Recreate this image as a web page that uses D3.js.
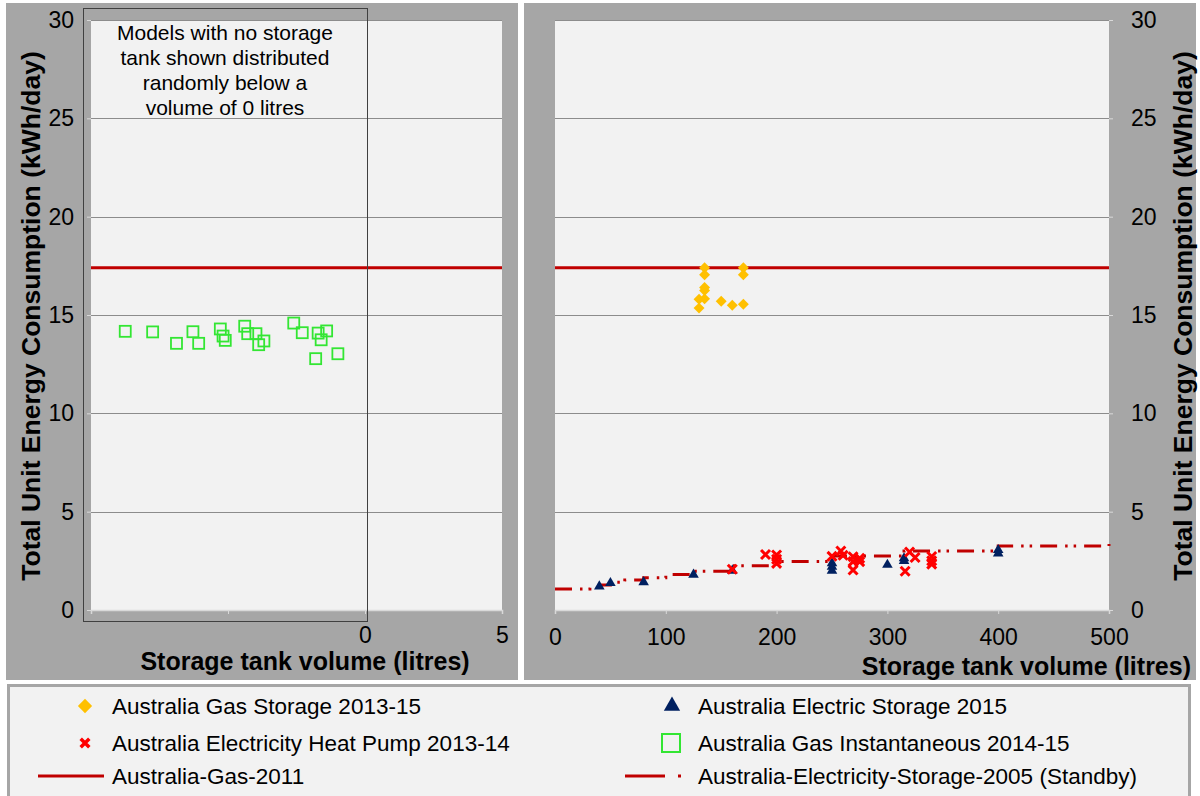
<!DOCTYPE html>
<html>
<head>
<meta charset="utf-8">
<script src="https://cdn.jsdelivr.net/npm/d3@7"></script>
<style>
  html, body { margin: 0; padding: 0; background: #ffffff; }
  svg { display: block; font-family: "Liberation Sans", Arial, sans-serif; }
</style>
</head>
<body>
<svg id="chart" width="1200" height="796"></svg>
<script>
// ---- data ----
const yTicks = [0, 5, 10, 15, 20, 25, 30];
const leftXTicks = [-10, -5, 0, 5];
const rightXTicks = [0, 100, 200, 300, 400, 500];

// Gas instantaneous models (no tank): spread below 0 litres
const gasInstVolume = [-8.75, -7.75, -6.88, -6.28, -6.07, -5.28, -5.18, -5.10, -4.39, -4.28,
                       -3.69, -3.98, -3.88, -2.60, -2.29, -1.71, -1.60, -1.40, -1.80, -0.99];
const gasInstUEC = [14.17, 14.14, 13.56, 14.15, 13.56, 14.29, 13.93, 13.71, 14.43, 14.05,
                    13.68, 14.05, 13.49, 14.59, 14.10, 14.08, 13.74, 14.19, 12.78, 13.03];

// Gas storage models
const gasStorVolume = [135, 135, 135, 135, 130, 135, 130, 150, 160, 170, 170, 170];
const gasStorUEC = [17.4, 17.05, 16.4, 16.25, 15.8, 15.82, 15.35, 15.7, 15.5, 15.55, 17.4, 17.05];

// Electric storage models
const elecVolume = [40, 50, 80, 125, 160, 250, 250, 250, 300, 315, 315, 400, 400];
const elecUEC = [1.2, 1.37, 1.42, 1.8, 2.0, 2.38, 2.2, 2.0, 2.3, 2.63, 2.5, 3.05, 2.88];

// Heat pump models
const hpVolume = [160, 190, 200, 200, 200, 250, 258, 260, 269, 269, 269, 275, 275, 316, 320, 325, 340, 340, 340];
const hpUEC = [2.07, 2.82, 2.8, 2.58, 2.37, 2.73, 3.0, 2.78, 2.71, 2.46, 2.03, 2.63, 2.46, 1.97, 2.95, 2.67, 2.72, 2.5, 2.33];

// Standby (heat loss) allowance, stepped by nominal tank size
const standbyVolume = [0, 31.5, 40, 50, 63, 80, 100, 125, 160, 200, 250, 315, 400, 500];
const standbyUEC = [1.07, 1.17, 1.27, 1.41, 1.52, 1.64, 1.8, 1.97, 2.25, 2.46, 2.75, 3.0, 3.25, 3.36];

// Gas 2011 reference level
const gas2011UEC = 17.4;

const legendLabels = [
  "Australia Gas Storage 2013-15",
  "Australia Electric Storage 2015",
  "Australia Electricity Heat Pump 2013-14",
  "Australia Gas Instantaneous 2014-15",
  "Australia-Gas-2011",
  "Australia-Electricity-Storage-2005 (Standby)"
];

// ---- styles ----
const C = {
  panel: "#a6a6a6",
  plot: "#f2f2f2",
  grid: "#8c8c8c",
  axis: "#d9d9d9",
  red: "#c00000",
  gold: "#ffc000",
  navy: "#002060",
  cross: "#ff0000",
  green: "#33e633",
  text: "#000000"
};

const svg = d3.select("#chart");

// panel backgrounds
svg.append("rect").attr("x", 6).attr("y", 3).attr("width", 512).attr("height", 677).attr("fill", C.panel);
svg.append("rect").attr("x", 524).attr("y", 3).attr("width", 672).attr("height", 677).attr("fill", C.panel);

const plotTop = 20, plotBottom = 610;
const y = d3.scaleLinear().domain([0, 30]).range([plotBottom, plotTop]);

const L = { x0: 91, x1: 502 };
const R = { x0: 555, x1: 1109 };
const xL = d3.scaleLinear().domain([-10, 5]).range([L.x0, L.x1]);
const xR = d3.scaleLinear().domain([0, 500]).range([R.x0, R.x1]);

function plotFrame(box) {
  const g = svg.append("g");
  g.append("rect").attr("x", box.x0).attr("y", plotTop)
    .attr("width", box.x1 - box.x0).attr("height", plotBottom - plotTop).attr("fill", C.plot);
  g.selectAll("line.grid").data(yTicks.filter(t => t > 0)).join("line")
    .attr("class", "grid")
    .attr("x1", box.x0).attr("x2", box.x1)
    .attr("y1", d => Math.round(y(d)) + 0.5).attr("y2", d => Math.round(y(d)) + 0.5)
    .attr("stroke", C.grid).attr("stroke-width", 1);
  return g;
}

plotFrame(L);
plotFrame(R);

function styleAxis(g) {
  g.select(".domain").attr("stroke", C.axis).attr("stroke-width", 1.5);
  g.selectAll(".tick line").attr("stroke", C.axis);
  g.selectAll(".tick text").attr("fill", C.text).attr("font-size", 23)
    .attr("font-family", '"Liberation Sans", Arial, sans-serif');
}

// x axes
const axL = svg.append("g").attr("transform", `translate(0,${plotBottom})`)
  .call(d3.axisBottom(xL).tickValues(leftXTicks).tickSize(4).tickPadding(13)
    .tickFormat(d => d < 0 ? "" : d3.format("d")(d)));
styleAxis(axL);

const axR = svg.append("g").attr("transform", `translate(0,${plotBottom})`)
  .call(d3.axisBottom(xR).tickValues(rightXTicks).tickSize(4).tickPadding(15)
    .tickFormat(d3.format("d")));
styleAxis(axR);

// y axes
const ayL = svg.append("g").attr("transform", `translate(${L.x0},0)`)
  .call(d3.axisLeft(y).tickValues(yTicks).tickSize(4).tickPadding(13).tickFormat(d3.format("d")));
styleAxis(ayL);
ayL.select(".domain").attr("stroke", "none");

const ayR = svg.append("g").attr("transform", `translate(${R.x1},0)`)
  .call(d3.axisRight(y).tickValues(yTicks).tickSize(4).tickPadding(18).tickFormat(d3.format("d")));
styleAxis(ayR);
ayR.select(".domain").attr("stroke", "none");

// Gas 2011 reference line across both plots
[L, R].forEach(box => {
  svg.append("line")
    .attr("x1", box.x0).attr("x2", box.x1)
    .attr("y1", y(gas2011UEC)).attr("y2", y(gas2011UEC))
    .attr("stroke", C.red).attr("stroke-width", 3);
});

// Standby step line
const standbyData = standbyVolume.map((v, i) => [v, standbyUEC[i]]);
svg.append("path")
  .datum(standbyData)
  .attr("d", d3.line().x(d => xR(d[0])).y(d => y(d[1])).curve(d3.curveStepAfter))
  .attr("fill", "none").attr("stroke", C.red).attr("stroke-width", 3)
  .attr("stroke-dasharray", "17,8,2.5,6,2.5,8");

// marker symbols
const sym = {
  diamond: d3.symbol().type(d3.symbolDiamond2).size(76),
  triangle: d3.symbol().type(d3.symbolTriangle2).size(80),
  cross: d3.symbol().type(d3.symbolTimes).size(54)
};

// Gas instantaneous (open squares)
svg.append("g").selectAll("rect").data(gasInstVolume.map((v, i) => [v, gasInstUEC[i]])).join("rect")
  .attr("x", d => xL(d[0]) - 5.5).attr("y", d => y(d[1]) - 5.5)
  .attr("width", 11).attr("height", 11)
  .attr("fill", "none").attr("stroke", C.green).attr("stroke-width", 1.8);

// Gas storage (diamonds)
svg.append("g").selectAll("path").data(gasStorVolume.map((v, i) => [v, gasStorUEC[i]])).join("path")
  .attr("transform", d => `translate(${xR(d[0])},${y(d[1])})`)
  .attr("d", sym.diamond).attr("fill", C.gold);

// Electric storage (triangles)
svg.append("g").selectAll("path").data(elecVolume.map((v, i) => [v, elecUEC[i]])).join("path")
  .attr("transform", d => `translate(${xR(d[0])},${y(d[1])})`)
  .attr("d", sym.triangle).attr("fill", C.navy);

// Heat pumps (crosses)
svg.append("g").selectAll("path").data(hpVolume.map((v, i) => [v, hpUEC[i]])).join("path")
  .attr("transform", d => `translate(${xR(d[0])},${y(d[1])})`)
  .attr("d", sym.cross).attr("fill", "none").attr("stroke", C.cross).attr("stroke-width", 3);

// annotation box on the left plot
svg.append("rect").attr("x", 83.5).attr("y", 8.5).attr("width", 284).attr("height", 613)
  .attr("fill", "none").attr("stroke", "#404040").attr("stroke-width", 1);
const note = ["Models with no storage", "tank shown distributed", "randomly below a", "volume of 0 litres"];
svg.append("g").selectAll("text").data(note).join("text")
  .attr("x", 225).attr("y", (d, i) => 40 + i * 25)
  .attr("text-anchor", "middle").attr("font-size", 21).attr("fill", C.text)
  .text(d => d);

// axis titles
const titleY = "Total Unit Energy Consumption (kWh/day)";
svg.append("text").attr("transform", "translate(40,316) rotate(-90)")
  .attr("text-anchor", "middle").attr("font-size", 26.5).attr("font-weight", "bold").text(titleY);
svg.append("text").attr("transform", "translate(1192,316) rotate(-90)")
  .attr("text-anchor", "middle").attr("font-size", 26.5).attr("font-weight", "bold").text(titleY);
svg.append("text").attr("x", 305).attr("y", 670)
  .attr("text-anchor", "middle").attr("font-size", 25).attr("font-weight", "bold")
  .text("Storage tank volume (litres)");
svg.append("text").attr("x", 1191).attr("y", 675)
  .attr("text-anchor", "end").attr("font-size", 25).attr("font-weight", "bold")
  .text("Storage tank volume (litres)");

// legend
svg.append("rect").attr("x", 8.5).attr("y", 685.5).attr("width", 1181).attr("height", 112)
  .attr("fill", "#f2f2f2").attr("stroke", C.panel).attr("stroke-width", 3);

const legRows = [706, 743, 776];
const colText = [112, 698];
const lg = svg.append("g").attr("font-size", 22.5).attr("fill", C.text);

lg.append("path").attr("transform", `translate(85,${legRows[0]})`)
  .attr("d", d3.symbol().type(d3.symbolDiamond2).size(130)).attr("fill", C.gold);
lg.append("path").attr("transform", `translate(672,${legRows[0]})`)
  .attr("d", d3.symbol().type(d3.symbolTriangle2).size(190)).attr("fill", C.navy);
lg.append("path").attr("transform", `translate(85,${legRows[1]})`)
  .attr("d", d3.symbol().type(d3.symbolTimes).size(50))
  .attr("fill", "none").attr("stroke", C.cross).attr("stroke-width", 3.5);
lg.append("rect").attr("x", 662).attr("y", legRows[1] - 9).attr("width", 18).attr("height", 18)
  .attr("fill", "none").attr("stroke", C.green).attr("stroke-width", 2);
lg.append("line").attr("x1", 38).attr("x2", 104).attr("y1", legRows[2]).attr("y2", legRows[2])
  .attr("stroke", C.red).attr("stroke-width", 3);
lg.append("line").attr("x1", 625).attr("x2", 683).attr("y1", legRows[2]).attr("y2", legRows[2])
  .attr("stroke", C.red).attr("stroke-width", 3).attr("stroke-dasharray", "40,13,3,20");

legendLabels.forEach((t, i) => {
  const col = i % 2, row = Math.floor(i / 2);
  lg.append("text").attr("x", colText[col]).attr("y", legRows[row]).attr("dy", "0.35em")
    .attr("fill", C.text).text(t);
});
</script>
</body>
</html>
